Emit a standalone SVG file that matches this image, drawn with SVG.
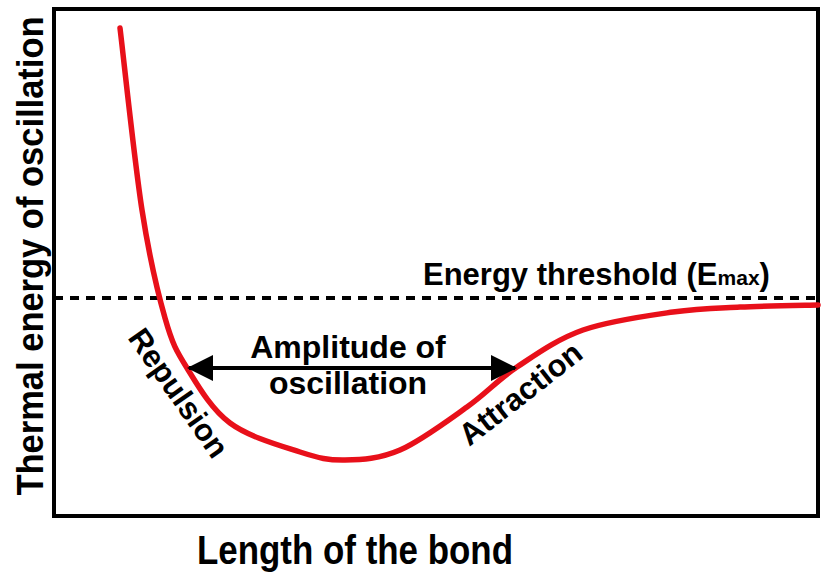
<svg xmlns="http://www.w3.org/2000/svg" width="830" height="577" viewBox="0 0 830 577">
<style>
  text { font-family: "Liberation Sans", Arial, sans-serif; font-weight: bold; fill: #000; }
  .frame { fill: none; stroke: #000; stroke-width: 4; }
  .curve { fill: none; stroke: #e8101a; stroke-width: 5.5; stroke-linecap: round; stroke-linejoin: round; }
  .thresh { fill: none; stroke: #000; stroke-width: 4; stroke-dasharray: 9 7; }
  .arrow { fill: none; stroke: #000; stroke-width: 4; }
</style>
<defs>
  <marker id="ah" viewBox="0 0 26 26" refX="24" refY="13" markerWidth="26" markerHeight="26" markerUnits="userSpaceOnUse" orient="auto-start-reverse">
    <path d="M0,0 L26,13 L0,26 Z" fill="#000"/>
  </marker>
</defs>
<rect width="830" height="577" fill="#fff"/>
<g id="frame"><rect class="frame" x="54" y="9" width="764" height="507"/></g>
<g id="y-axis-label"><text transform="translate(43,256) rotate(-90) scale(1,1.08)" font-size="34.5" text-anchor="middle">Thermal energy of oscillation</text></g>
<g id="x-axis-label"><text x="197" y="564" font-size="40" textLength="316" lengthAdjust="spacingAndGlyphs">Length of the bond</text></g>
<g id="threshold">
  <line class="thresh" x1="54" y1="298" x2="818" y2="298"/>
  <text x="423" y="285" font-size="31">Energy threshold (E<tspan font-size="21">max</tspan>)</text>
</g>
<g id="curve">
  <path class="curve" d="M120,28 C123.7,58.3 134.5,161.7 142,210 C149.5,258.3 157.5,291.7 165,318 C172.5,344.3 176.2,350.5 187,368 C197.8,385.5 211.2,409 230,423 C248.8,437 280.8,445.8 300,452 C319.2,458.2 328.3,460.3 345,460 C361.7,459.7 379.7,458.8 400,450 C420.3,441.2 447.5,420.8 467,407 C486.5,393.2 497.7,379.8 517,367 C536.3,354.2 557,339.2 583,330 C609,320.8 646.8,315.8 673,312 C699.2,308.2 715.8,308.2 740,307 C764.2,305.8 805,305.3 818,305"/>
</g>
<g id="connectors">
  <line class="arrow" x1="189" y1="368" x2="515" y2="368" marker-start="url(#ah)" marker-end="url(#ah)"/>
</g>
<g id="amplitude-label">
  <text x="348" y="358" font-size="32" text-anchor="middle">Amplitude of</text>
  <text x="348" y="394" font-size="32" text-anchor="middle">oscillation</text>
</g>
<g id="repulsion-label"><text transform="translate(170,399) rotate(55)" font-size="31" text-anchor="middle">Repulsion</text></g>
<g id="attraction-label"><text transform="translate(527,402) rotate(-38)" font-size="31" text-anchor="middle">Attraction</text></g>
</svg>
